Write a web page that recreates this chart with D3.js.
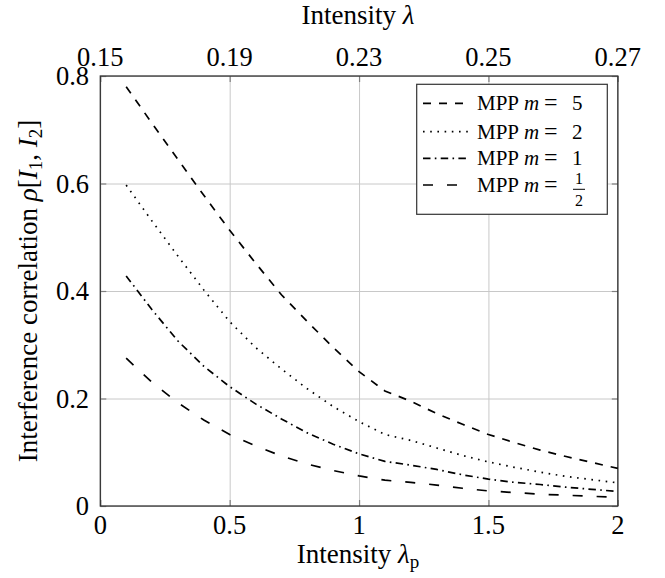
<!DOCTYPE html>
<html><head><meta charset="utf-8">
<script src="https://cdn.jsdelivr.net/npm/d3@7"></script>
<style>
body{margin:0;background:#fff;}
</style></head>
<body><svg id="c" width="665" height="578"></svg>
<script>
const xValues = [0.1,0.2,0.3,0.4,0.5,0.6,0.7,0.8,0.9,1.0,1.1,1.2,1.3,1.4,1.5,1.6,1.7,1.8,1.9,2.0];
const m5  = [0.780,0.712,0.645,0.578,0.513,0.452,0.393,0.343,0.295,0.250,0.214,0.195,0.172,0.152,0.133,0.118,0.104,0.092,0.081,0.070];
const m2  = [0.597,0.530,0.465,0.402,0.343,0.295,0.255,0.218,0.185,0.157,0.133,0.122,0.108,0.094,0.082,0.072,0.063,0.055,0.049,0.043];
const m1  = [0.428,0.365,0.307,0.260,0.222,0.190,0.162,0.136,0.115,0.097,0.083,0.076,0.068,0.058,0.050,0.044,0.040,0.035,0.031,0.027];
const mHalf = [0.275,0.230,0.192,0.160,0.133,0.112,0.093,0.078,0.066,0.056,0.048,0.044,0.039,0.033,0.028,0.025,0.022,0.020,0.018,0.016];
const seriesNames = ["5","2","1","1/2"];
const bottomTicks = [0,0.5,1,1.5,2];
const leftTicks = [0,0.2,0.4,0.6,0.8];
const topTickLabels = ["0.15","0.19","0.23","0.25","0.27"];

const FONT = "'Liberation Serif', 'Times New Roman', 'DejaVu Serif', serif";
const svg = d3.select("#c").attr("font-family", FONT);
const X0=100.3, X1=617.8, Y0=506, Y1=76;
const x = d3.scaleLinear().domain([0,2]).range([X0,X1]);
const y = d3.scaleLinear().domain([0,0.8]).range([Y0,Y1]);
const W = X1-X0, H = Y0-Y1;

// grid
const grid = svg.append("g");
grid.append("g").attr("transform",`translate(0,${Y0})`)
  .call(d3.axisBottom(x).tickValues(bottomTicks).tickSize(-H).tickFormat(""))
  .call(g=>{g.select(".domain").remove();g.selectAll("line").attr("stroke","#c8c8c8").attr("stroke-width",1);});
grid.append("g").attr("transform",`translate(${X0},0)`)
  .call(d3.axisLeft(y).tickValues(leftTicks).tickSize(-W).tickFormat(""))
  .call(g=>{g.select(".domain").remove();g.selectAll("line").attr("stroke","#c8c8c8").attr("stroke-width",1);});

// tick marks (inside) on all sides
const tl = 6;
function styleTicks(g){g.select(".domain").remove();g.selectAll("line").attr("stroke","#808080").attr("stroke-width",1.2);}
svg.append("g").attr("transform",`translate(0,${Y0})`).call(d3.axisBottom(x).tickValues(bottomTicks).tickSize(-tl).tickFormat("")).call(styleTicks);
svg.append("g").attr("transform",`translate(0,${Y1})`).call(d3.axisTop(x).tickValues(bottomTicks).tickSize(-tl).tickFormat("")).call(styleTicks);
svg.append("g").attr("transform",`translate(${X0},0)`).call(d3.axisLeft(y).tickValues(leftTicks).tickSize(-tl).tickFormat("")).call(styleTicks);
svg.append("g").attr("transform",`translate(${X1},0)`).call(d3.axisRight(y).tickValues(leftTicks).tickSize(-tl).tickFormat("")).call(styleTicks);

// frame
svg.append("rect").attr("x",X0).attr("y",Y1).attr("width",W).attr("height",H)
  .attr("fill","none").attr("stroke","#333").attr("stroke-width",1.3);

// tick labels
const fs = 26.5;
svg.append("g").selectAll("text").data(bottomTicks).join("text")
  .attr("x",d=>x(d)).attr("y",534).attr("text-anchor","middle").attr("font-size",fs)
  .text(d=>d3.format("")(d));
svg.append("g").selectAll("text").data(bottomTicks).join("text")
  .attr("x",d=>x(d)).attr("y",66).attr("text-anchor","middle").attr("font-size",fs)
  .text((d,i)=>topTickLabels[i]);
svg.append("g").selectAll("text").data(leftTicks).join("text")
  .attr("x",89).attr("y",d=>y(d)+9).attr("text-anchor","end").attr("font-size",fs)
  .text(d=>d3.format("")(d));

// titles
const ts = 27;
const tt = svg.append("text").attr("x",358).attr("y",24).attr("text-anchor","middle").attr("font-size",ts);
tt.append("tspan").text("Intensity ");
tt.append("tspan").attr("font-style","italic").text("λ");
const bt = svg.append("text").attr("x",358).attr("y",563).attr("text-anchor","middle").attr("font-size",ts);
bt.append("tspan").text("Intensity ");
bt.append("tspan").attr("font-style","italic").text("λ");
bt.append("tspan").attr("dy",5).attr("font-size",19).text("p");
const yt = svg.append("text").attr("transform",`translate(37,291) rotate(-90)`).attr("text-anchor","middle").attr("font-size",ts);
yt.append("tspan").text("Interference correlation ");
yt.append("tspan").attr("font-style","italic").text("ρ");
yt.append("tspan").text("[");
yt.append("tspan").attr("font-style","italic").text("I");
yt.append("tspan").attr("dy",5).attr("font-size",19).text("1");
yt.append("tspan").attr("dy",-5).text(", ");
yt.append("tspan").attr("font-style","italic").text("I");
yt.append("tspan").attr("dy",5).attr("font-size",19).text("2");
yt.append("tspan").attr("dy",-5).text("]");

// curves
const styles = ["8,8","1.6,5.6","7.5,4.3,1.6,4.3","10,14"];
const allSeries = [m5,m2,m1,mHalf];
const line = d3.line().x((d,i)=>x(xValues[i])).y(d=>y(d));
svg.append("g").selectAll("path").data(allSeries).join("path")
  .attr("d",d=>line(d)).attr("fill","none").attr("stroke","#000").attr("stroke-width",1.7)
  .attr("stroke-dasharray",(d,i)=>styles[i]);

// legend
const lg = svg.append("g");
lg.append("rect").attr("x",416.7).attr("y",84.3).attr("width",190.6).attr("height",130)
  .attr("fill","#fff").attr("stroke","#333").attr("stroke-width",1.2);
const rowY = [103.3,131.7,158.3,185];
seriesNames.forEach((nm,i)=>{
  lg.append("line").attr("x1",423).attr("x2",470).attr("y1",rowY[i]).attr("y2",rowY[i])
    .attr("stroke","#000").attr("stroke-width",1.7).attr("stroke-dasharray",styles[i]);
  const t = lg.append("text").attr("x",477).attr("y",rowY[i]+7).attr("font-size",21);
  t.append("tspan").text("MPP");
  t.append("tspan").attr("x",524).attr("font-style","italic").text("m");
  t.append("tspan").attr("x",544).attr("font-size",24).text("=");
  if(nm.includes("/")){
    const [a,b] = nm.split("/");
    const cx = 579;
    lg.append("text").attr("x",cx).attr("y",184).attr("text-anchor","middle").attr("font-size",16).text(a);
    lg.append("line").attr("x1",cx-6).attr("x2",cx+6).attr("y1",189.3).attr("y2",189.3).attr("stroke","#000").attr("stroke-width",1);
    lg.append("text").attr("x",cx).attr("y",206).attr("text-anchor","middle").attr("font-size",16).text(b);
  } else {
    t.append("tspan").attr("x",572).text(nm);
  }
});
</script></body></html>
